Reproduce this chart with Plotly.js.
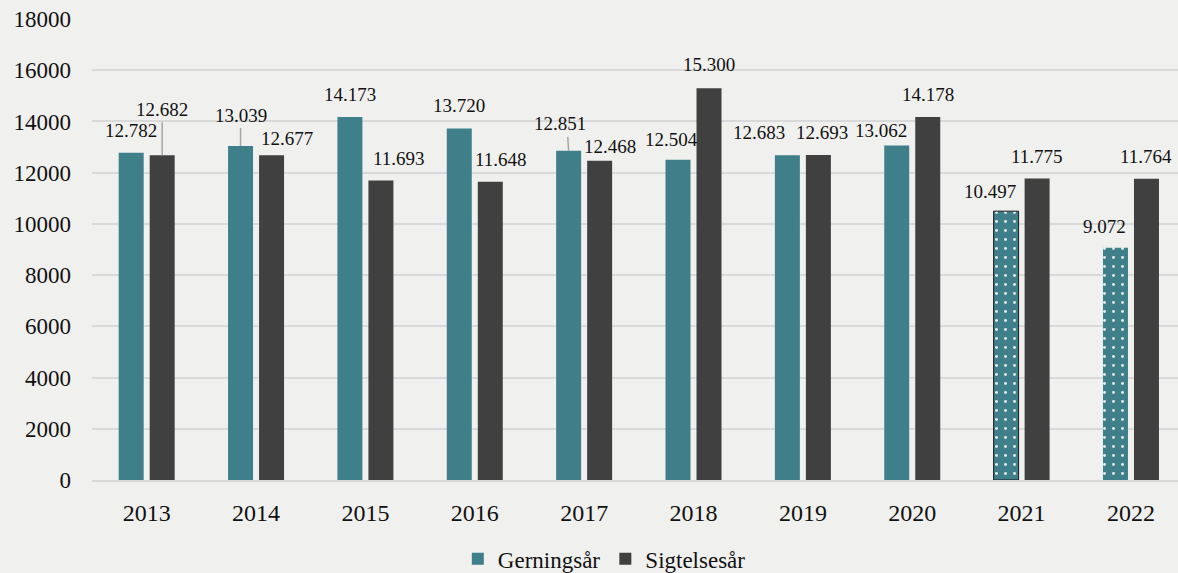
<!DOCTYPE html>
<html>
<head>
<meta charset="utf-8">
<script src="https://cdn.plot.ly/plotly-3.0.1.min.js"></script>
<style>
  html, body { margin: 0; padding: 0; background: #f0f0ee; }
  #chart { width: 1178px; height: 573px; }
</style>
</head>
<body>
<div id="chart"></div>
<script>
// ---- Data ----
const years = ['2013', '2014', '2015', '2016', '2017', '2018', '2019', '2020', '2021', '2022'];
const gerningsaar = [12782, 13039, 14173, 13720, 12851, 12504, 12683, 13062, 10497, 9072];
const sigtelsesaar = [12682, 12677, 11693, 11648, 12468, 15300, 12693, 14178, 11775, 11764];
const seriesNames = ['Gerningsår', 'Sigtelsesår'];
const yTicks = [0, 2000, 4000, 6000, 8000, 10000, 12000, 14000, 16000, 18000];

// ---- Label placement (pixel offsets from top-centre of each bar; styling only) ----
const gLabelDx = [0, 0, 0, 0, -9, -7, -28, -16, -16, -11];
const gLabelDy = [-22, -31, -23, -23, -27, -20, -23, -15, -20, -21];
const gLeader  = [false, true, false, false, true, false, false, false, false, false];
const sLabelDx = [0, 15, 18, 11, 10, 0, 4, 0, 0, 0];
const sLabelDy = [-46, -17, -22, -22, -14, -24, -22, -22, -22, -22];
const sLeader  = [true, false, false, false, false, false, false, false, false, false];

const teal = '#3e7f8a';
const dark = '#404040';
const serif = '"Liberation Serif", "Times New Roman", Times, serif';

function fmt(n) {
  return String(n).replace(/\B(?=(\d{3})+(?!\d))/g, '.');
}

const patternShapes = years.map(y => (y === '2021' || y === '2022') ? '.' : '');
const outlineWidths = years.map(y => y === '2021' ? 1 : 0);

const traces = [
  {
    type: 'bar', name: seriesNames[0], x: years, y: gerningsaar,
    marker: {
      color: teal,
      line: { color: '#1a1a1a', width: outlineWidths },
      pattern: { shape: patternShapes, fgcolor: '#e8eeee', bgcolor: teal, size: 9, solidity: 0.08, fillmode: 'replace' }
    }
  },
  {
    type: 'bar', name: seriesNames[1], x: years, y: sigtelsesaar,
    marker: { color: dark, line: { width: 0 } }
  }
];

const annotations = [];
const shapes = [];
function addLabels(values, dxs, dys, leaders, barShift) {
  values.forEach((v, i) => {
    annotations.push({
      x: i, y: v, xref: 'x', yref: 'y',
      xshift: barShift + dxs[i],
      yshift: -dys[i],
      xanchor: 'center', yanchor: 'middle',
      text: fmt(v),
      showarrow: false,
      font: { family: serif, size: 19, color: '#111111' }
    });
    if (leaders[i]) {
      shapes.push({
        type: 'line', layer: 'above',
        xref: 'x', yref: 'y',
        xsizemode: 'pixel', ysizemode: 'pixel',
        xanchor: i, yanchor: v,
        x0: barShift + dxs[i] * 0.1, x1: barShift,
        y0: -dys[i] - 13, y1: 0,
        line: { color: '#a6a6a6', width: 1.5 }
      });
    }
  });
}
addLabels(gerningsaar, gLabelDx, gLabelDy, gLeader, -15.5);
addLabels(sigtelsesaar, sLabelDx, sLabelDy, sLeader, 15.5);

const layout = {
  width: 1178, height: 573,
  margin: { l: 92, r: 0, t: 19, b: 93, pad: 0 },
  paper_bgcolor: '#f0f0ee',
  plot_bgcolor: '#f0f0ee',
  barmode: 'group',
  bargap: 0.433,
  bargroupgap: 0.194,
  font: { family: serif, size: 23, color: '#111111' },
  xaxis: {
    type: 'category',
    range: [-0.5, 9.43],
    showgrid: false,
    showline: true, linecolor: '#d9d9d9', linewidth: 2,
    ticks: '',
    tickfont: { family: serif, size: 24, color: '#111111' },
    ticklabelstandoff: 10,
    zeroline: false,
    fixedrange: true
  },
  yaxis: {
    range: [0, 18000],
    tickvals: yTicks,
    ticktext: yTicks.map(String),
    showgrid: true, gridcolor: '#d9d9d9', gridwidth: 2,
    zeroline: false,
    showline: false,
    ticks: '',
    tickfont: { family: serif, size: 23, color: '#111111' },
    ticklabelstandoff: 20,
    fixedrange: true
  },
  showlegend: true,
  legend: {
    orientation: 'h',
    xref: 'container', yref: 'container',
    x: 0.513, xanchor: 'center',
    y: 0.025, yanchor: 'middle',
    font: { family: serif, size: 23, color: '#111111' },
    bgcolor: 'rgba(0,0,0,0)'
  }
};

const gd = document.getElementById('chart');
Plotly.newPlot(gd, traces, layout, { displayModeBar: false })
  .then(() => Plotly.relayout(gd, { annotations: annotations, shapes: shapes }));
</script>
</body>
</html>
